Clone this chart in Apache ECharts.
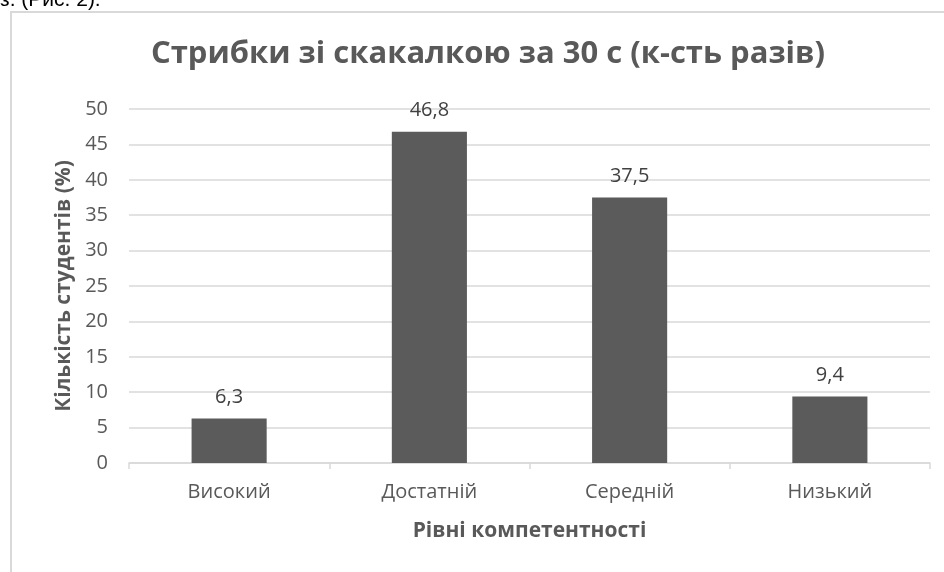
<!DOCTYPE html>
<html lang="uk">
    <head>
        <meta charset="UTF-8">
        <script src="https://cdn.jsdelivr.net/npm/echarts@6/dist/echarts.min.js"></script>
        <title>Стрибки зі скакалкою</title>
        <style>
            html, body { margin: 0; padding: 0; background: #fff; }
        </style>
    </head>
    <body>
        <div id="chart" style="width: 944px; height: 572px;"></div>
    </body>
    <script>
        // рівні компетентності та відсоток студентів
        var levels = ["Високий", "Достатній", "Середній", "Низький"];
        var percents = [6.3, 46.8, 37.5, 9.4];
        var yTicks = [0, 50, 5]; // min, max, крок

        var font = "'Open Sans', 'Noto Sans', sans-serif";
        var myChart = echarts.init(document.getElementById("chart"));

        var option = {
            backgroundColor: "#fff",
            animation: false,
            title: {
                text: "Стрибки зі скакалкою за 30 с (к-сть разів)",
                left: 483,
                textAlign: "center",
                top: 34,
                textStyle: { fontFamily: font, fontSize: 31, fontWeight: "bold", color: "#595959" }
            },
            graphic: [
                {   // рамка діаграми
                    type: "rect",
                    shape: { x: 11, y: 12, width: 960, height: 600 },
                    style: { fill: "none", stroke: "#d9d9d9", lineWidth: 2 },
                    z: -1
                },
                {   // обрізаний текст над діаграмою
                    type: "text",
                    left: 0,
                    top: -10,
                    style: { text: "з. (Рис. 2).", fontFamily: "'Liberation Sans', Arial", fontSize: 21, fill: "#000" }
                }
            ],
            grid: { left: 129, right: 14, top: 109, bottom: 109 },
            xAxis: {
                type: "category",
                data: levels,
                name: "Рівні компетентності",
                nameLocation: "middle",
                nameGap: 58,
                nameTextStyle: { fontFamily: font, fontSize: 21, fontWeight: "bold", color: "#595959" },
                axisLine: { lineStyle: { color: "#d9d9d9", width: 1.5 } },
                axisTick: { show: true, length: 6, lineStyle: { color: "#d9d9d9", width: 1.5 } },
                axisLabel: { fontFamily: font, fontSize: 20, color: "#595959", margin: 19 }
            },
            yAxis: {
                type: "value",
                min: yTicks[0],
                max: yTicks[1],
                interval: yTicks[2],
                name: "Кількість студентів (%)",
                nameLocation: "middle",
                nameGap: 53,
                nameTextStyle: { fontFamily: font, fontSize: 21, fontWeight: "bold", color: "#595959" },
                axisLine: { show: false },
                axisTick: { show: false },
                axisLabel: { fontFamily: font, fontSize: 20, color: "#595959", margin: 21 },
                splitLine: { lineStyle: { color: "#d9d9d9", width: 1.5 } }
            },
            series: [
                {
                    type: "bar",
                    data: percents,
                    barWidth: "37.5%",
                    itemStyle: { color: "#5b5b5b" },
                    label: {
                        show: true,
                        position: "top",
                        distance: 11,
                        fontFamily: font,
                        fontSize: 20,
                        color: "#404040",
                        formatter: function (p) {
                            return p.value.toFixed(1).replace(".", ",");
                        }
                    }
                }
            ]
        };
        myChart.setOption(option);
    </script>
</html>
